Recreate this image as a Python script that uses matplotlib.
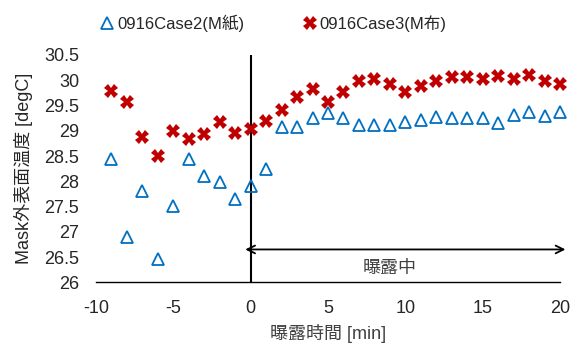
import matplotlib
matplotlib.use("Agg")
import matplotlib.pyplot as plt

plt.rcParams["font.family"] = ["Liberation Sans", "Noto Sans CJK JP", "DejaVu Sans"]
plt.rcParams["axes.unicode_minus"] = False

# exposure time [min]
time_case2 = list(range(-9, 21))
time_case3 = list(range(-9, 21))

# Mask outer surface temperature [degC]
temp_case2 = [28.44, 26.89, 27.81, 26.46, 27.52, 28.44, 28.11, 27.98, 27.64, 27.91,
              28.24, 29.07, 29.08, 29.25, 29.35, 29.25, 29.11, 29.11, 29.11, 29.18,
              29.21, 29.28, 29.25, 29.25, 29.25, 29.15, 29.31, 29.38, 29.30, 29.38]
temp_case3 = [29.79, 29.56, 28.87, 28.51, 29.00, 28.84, 28.93, 29.17, 28.96, 29.04,
              29.20, 29.41, 29.66, 29.83, 29.56, 29.77, 29.99, 30.03, 29.93, 29.76,
              29.89, 29.99, 30.06, 30.06, 30.03, 30.09, 30.03, 30.10, 29.99, 29.93]

label_case2 = "0916Case2(M紙)"
label_case3 = "0916Case3(M布)"
x_ticks = [-10, -5, 0, 5, 10, 15, 20]
y_ticks = [26, 26.5, 27, 27.5, 28, 28.5, 29, 29.5, 30, 30.5]

text_color = "#262626"

fig = plt.figure(figsize=(5.84, 3.47), dpi=100)
ax = fig.add_axes([0.1644, 0.1865, 0.7945, 0.655])

ax.plot(time_case2, temp_case2, linestyle="none", marker="^", markersize=8,
        markerfacecolor="none", markeredgecolor="#0070C0", markeredgewidth=1.3,
        label=label_case2, clip_on=False)
ax.plot(time_case3, temp_case3, linestyle="none", marker="X", markersize=9.5,
        color="#C00000", markeredgewidth=0, label=label_case3, clip_on=False)

# start of exposure
ax.axvline(0, color="black", linewidth=1.5, zorder=1)
ax.annotate("", xy=(-0.35, 26.65), xytext=(20.35, 26.65),
            arrowprops=dict(arrowstyle="<->", color="black", linewidth=1.3,
                            mutation_scale=14, shrinkA=0, shrinkB=0),
            annotation_clip=False)
ax.text(9.0, 26.27, "曝露中", ha="center", va="center", fontsize=13,
        color="#404040")

ax.set_xlim(-10, 20)
ax.set_ylim(26, 30.5)
ax.set_xticks(x_ticks)
ax.set_yticks(y_ticks)
ax.set_yticklabels([f"{v:g}" for v in y_ticks])
ax.tick_params(length=0, labelsize=13, colors=text_color)
ax.tick_params(axis="y", pad=12)
ax.tick_params(axis="x", pad=13)

for side in ("left", "top", "right"):
    ax.spines[side].set_visible(False)
ax.spines["bottom"].set_color("black")
ax.spines["bottom"].set_linewidth(1.0)

ax.set_xlabel("曝露時間 [min]", fontsize=13, color="#404040", labelpad=5)
ax.set_ylabel("Mask外表面温度 [degC]", fontsize=13, color=text_color, labelpad=8)

fig.legend(loc="upper center", bbox_to_anchor=(0.47, 1.0), ncol=2,
           frameon=False, fontsize=12, handlelength=0.6, handletextpad=0.3,
           columnspacing=3.6, labelcolor=text_color)

fig.savefig("out.png", dpi=100)
